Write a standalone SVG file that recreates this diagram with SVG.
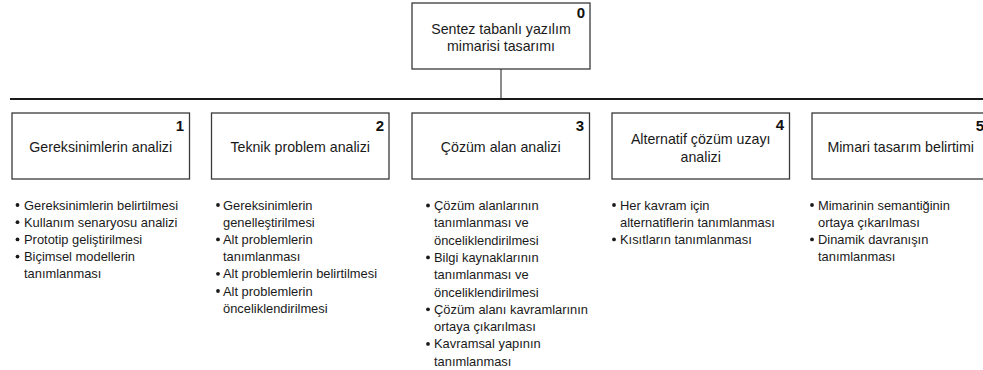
<svg xmlns="http://www.w3.org/2000/svg" width="983" height="370" viewBox="0 0 983 370">
<style>
.box{fill:#fff;stroke:#3a3a3a;stroke-width:1.3}
.t{font-family:"Liberation Sans",Arial,sans-serif;font-size:14.2px;fill:#1a1a1a;text-anchor:middle}
.n{font-family:"Liberation Sans",Arial,sans-serif;font-size:15px;font-weight:bold;fill:#111;text-anchor:end}
.b{font-family:"Liberation Sans",Arial,sans-serif;font-size:12.9px;fill:#1a1a1a}
.d{fill:#1a1a1a}
.c{stroke:#1a1a1a;fill:none}
</style>
<g id="connectors">
<line class="c" x1="501" y1="69" x2="501" y2="99" stroke-width="1"/>
<line class="c" x1="10" y1="99" x2="983" y2="99" stroke-width="2.2"/>
</g>
<g id="n0">
<rect class="box" x="412" y="3" width="178" height="66"/>
<text class="n" x="585" y="18">0</text>
<text class="t" x="501" y="34">Sentez tabanlı yazılım</text>
<text class="t" x="501" y="51">mimarisi tasarımı</text>
</g>
<g id="n1">
<rect class="box" x="12" y="113" width="177.5" height="66"/>
<text class="n" x="184" y="131">1</text>
<text class="t" x="100.7" y="152">Gereksinimlerin analizi</text>
</g>
<g id="n2">
<rect class="box" x="211.5" y="113" width="177.5" height="66"/>
<text class="n" x="384" y="131">2</text>
<text class="t" x="300.2" y="152">Teknik problem analizi</text>
</g>
<g id="n3">
<rect class="box" x="412" y="113" width="177.5" height="66"/>
<text class="n" x="584" y="131">3</text>
<text class="t" x="500.7" y="152">Çözüm alan analizi</text>
</g>
<g id="n4">
<rect class="box" x="612" y="113" width="177.5" height="66"/>
<text class="n" x="784" y="130">4</text>
<text class="t" x="700.7" y="144">Alternatif çözüm uzayı</text>
<text class="t" x="700.7" y="162">analizi</text>
</g>
<g id="n5">
<rect class="box" x="812" y="113" width="177.5" height="66"/>
<text class="n" x="984" y="131">5</text>
<text class="t" x="900.7" y="152">Mimari tasarım belirtimi</text>
</g>
<g id="list1">
<circle class="d" cx="17.5" cy="205" r="1.9"/>
<circle class="d" cx="17.5" cy="222.2" r="1.9"/>
<circle class="d" cx="17.5" cy="239.4" r="1.9"/>
<circle class="d" cx="17.5" cy="256.6" r="1.9"/>
<text class="b" x="24" y="209.5">Gereksinimlerin belirtilmesi</text>
<text class="b" x="24" y="226.7">Kullanım senaryosu analizi</text>
<text class="b" x="24" y="243.9">Prototip geliştirilmesi</text>
<text class="b" x="24" y="261.1">Biçimsel modellerin</text>
<text class="b" x="24" y="278.3">tanımlanması</text>
</g>
<g id="list2">
<circle class="d" cx="218" cy="205" r="1.9"/>
<circle class="d" cx="218" cy="239.4" r="1.9"/>
<circle class="d" cx="218" cy="273.8" r="1.9"/>
<circle class="d" cx="218" cy="291" r="1.9"/>
<text class="b" x="223" y="209.5">Gereksinimlerin</text>
<text class="b" x="223" y="226.7">genelleştirilmesi</text>
<text class="b" x="223" y="243.9">Alt problemlerin</text>
<text class="b" x="223" y="261.1">tanımlanması</text>
<text class="b" x="223" y="278.3">Alt problemlerin belirtilmesi</text>
<text class="b" x="223" y="295.5">Alt problemlerin</text>
<text class="b" x="223" y="312.7">önceliklendirilmesi</text>
</g>
<g id="list3">
<circle class="d" cx="428" cy="205.5" r="1.9"/>
<circle class="d" cx="428" cy="257.4" r="1.9"/>
<circle class="d" cx="428" cy="309.3" r="1.9"/>
<circle class="d" cx="428" cy="343.9" r="1.9"/>
<text class="b" x="434" y="210">Çözüm alanlarının</text>
<text class="b" x="434" y="227.3">tanımlanması ve</text>
<text class="b" x="434" y="244.6">önceliklendirilmesi</text>
<text class="b" x="434" y="261.9">Bilgi kaynaklarının</text>
<text class="b" x="434" y="279.2">tanımlanması ve</text>
<text class="b" x="434" y="296.5">önceliklendirilmesi</text>
<text class="b" x="434" y="313.8">Çözüm alanı kavramlarının</text>
<text class="b" x="434" y="331.1">ortaya çıkarılması</text>
<text class="b" x="434" y="348.4">Kavramsal yapının</text>
<text class="b" x="434" y="365.7">tanımlanması</text>
</g>
<g id="list4">
<circle class="d" cx="614" cy="205" r="1.9"/>
<circle class="d" cx="614" cy="239.4" r="1.9"/>
<text class="b" x="620" y="209.5">Her kavram için</text>
<text class="b" x="620" y="226.7">alternatiflerin tanımlanması</text>
<text class="b" x="620" y="243.9">Kısıtların tanımlanması</text>
</g>
<g id="list5">
<circle class="d" cx="812" cy="205" r="1.9"/>
<circle class="d" cx="812" cy="239.4" r="1.9"/>
<text class="b" x="818" y="209.5">Mimarinin semantiğinin</text>
<text class="b" x="818" y="226.7">ortaya çıkarılması</text>
<text class="b" x="818" y="243.9">Dinamik davranışın</text>
<text class="b" x="818" y="261.1">tanımlanması</text>
</g>
</svg>
